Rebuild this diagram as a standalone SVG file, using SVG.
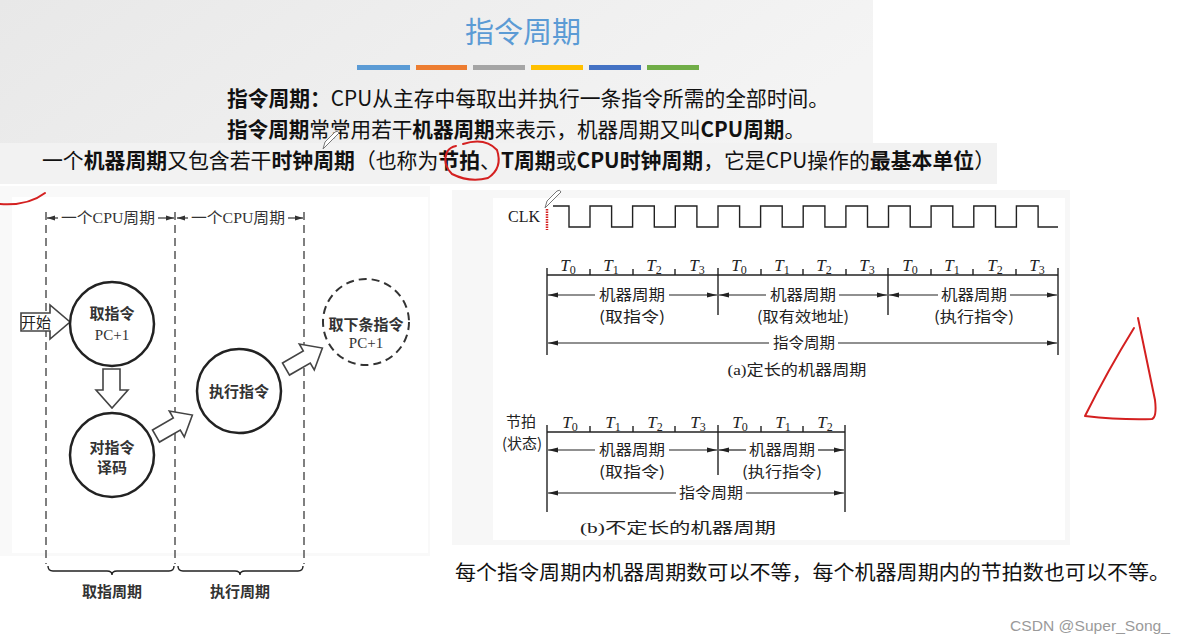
<svg xmlns="http://www.w3.org/2000/svg" width="1187" height="643" viewBox="0 0 1187 643">
<defs>
<linearGradient id="hg" x1="0" y1="0" x2="1" y2="0.3">
<stop offset="0" stop-color="#e8e8e8"/>
<stop offset="1" stop-color="#f4f4f4"/>
</linearGradient>
<marker id="ah" viewBox="0 0 10 6" refX="10" refY="3" markerWidth="10" markerHeight="6" markerUnits="userSpaceOnUse" orient="auto">
<path d="M0,0.6 L10,3 L0,5.4 z" fill="#222"/>
</marker>
<marker id="ahs" viewBox="0 0 8 6" refX="8" refY="3" markerWidth="8" markerHeight="6" markerUnits="userSpaceOnUse" orient="auto">
<path d="M0,0.5 L8,3 L0,5.5 z" fill="#333"/>
</marker>
</defs>
<style>
.hd{font-family:"Noto Sans CJK SC","Noto Sans",sans-serif;font-size:21px;fill:#111}
.b{font-weight:bold}
.dl{stroke:#555;stroke-width:1.5;stroke-dasharray:8 5;fill:none}
.cir{fill:#fff;stroke:#222;stroke-width:2.5}
.blk{fill:#fff;stroke:#444;stroke-width:1.6;stroke-linejoin:miter}
.ct{font-family:"Noto Sans CJK SC",sans-serif;font-size:15px;font-weight:bold;fill:#333;text-anchor:middle}
.pc{font-family:"Liberation Serif","Noto Sans CJK SC",serif;font-size:15px;fill:#333;text-anchor:middle}
.dim{font-family:"Liberation Serif","Noto Sans CJK SC",serif;font-size:15px;fill:#333;text-anchor:middle}
.ln{stroke:#222;stroke-width:1.4;fill:none}
.ar{stroke:#222;stroke-width:1.2;fill:none;marker-end:url(#ah)}
.ars{stroke:#333;stroke-width:1.2;fill:none;marker-end:url(#ahs)}
.rt{font-family:"Noto Sans CJK SC",sans-serif;font-size:15px;fill:#222;text-anchor:middle}
.tl{font-family:"Liberation Serif",serif;font-size:17px;fill:#222;text-anchor:middle}
.cap{font-family:"Liberation Serif","Noto Sans CJK SC",serif;font-size:15px;fill:#222;text-anchor:middle}
.red{stroke:#d42020;stroke-width:2;fill:none;stroke-linecap:round;stroke-linejoin:round}
</style>
<rect width="1187" height="643" fill="#fff"/>
<!-- header -->
<g id="header">
<rect x="0" y="0" width="873" height="184" fill="url(#hg)"/>
<rect x="0" y="143" width="997" height="41" fill="#f2f2f2"/>
<text x="523" y="43" text-anchor="middle" font-family="Noto Sans CJK SC,sans-serif" font-size="29" fill="#5b9bd5">指令周期</text>
<rect x="357" y="65" width="53" height="5" fill="#5b9bd5"/>
<rect x="416" y="65" width="51" height="5" fill="#ed7d31"/>
<rect x="473" y="65" width="52" height="5" fill="#a5a5a5"/>
<rect x="531" y="65" width="52" height="5" fill="#ffc000"/>
<rect x="589" y="65" width="52" height="5" fill="#4472c4"/>
<rect x="647" y="65" width="52" height="5" fill="#70ad47"/>
<text class="hd" x="227" y="106" textLength="602" lengthAdjust="spacingAndGlyphs"><tspan class="b">指令周期：</tspan>CPU从主存中每取出并执行一条指令所需的全部时间。</text>
<text class="hd" x="227" y="137" textLength="578" lengthAdjust="spacingAndGlyphs"><tspan class="b">指令周期</tspan>常常用若干<tspan class="b">机器周期</tspan>来表示，机器周期又叫<tspan class="b">CPU周期</tspan>。</text>
<text class="hd" x="42" y="168" textLength="953" lengthAdjust="spacingAndGlyphs">一个<tspan class="b">机器周期</tspan>又包含若干<tspan class="b">时钟周期</tspan>（也称为<tspan class="b">节拍</tspan>、<tspan class="b">T周期</tspan>或<tspan class="b">CPU时钟周期</tspan>，它是CPU操作的<tspan class="b">最基本单位</tspan>）</text>
</g>
<!-- panels -->
<rect x="0" y="186" width="430" height="370" fill="#f9f9f9"/>
<rect x="12" y="197" width="416" height="356" fill="#fff"/>
<rect x="452" y="190" width="618" height="355" fill="#f7f7f7"/>
<rect x="493" y="198" width="572" height="342" fill="#fff"/>
<!-- left diagram guides -->
<g id="left-guides">
<line class="dl" x1="46" y1="212" x2="46" y2="564"/>
<line class="dl" x1="175" y1="212" x2="175" y2="564"/>
<line class="dl" x1="304" y1="212" x2="304" y2="564"/>
<line class="ars" x1="58" y1="218" x2="47" y2="218"/>
<line class="ars" x1="158" y1="218" x2="174" y2="218"/>
<line class="ars" x1="188" y1="218" x2="177" y2="218"/>
<line class="ars" x1="288" y1="218" x2="303" y2="218"/>
<text class="dim" x="108" y="223" textLength="94" lengthAdjust="spacingAndGlyphs">一个CPU周期</text>
<text class="dim" x="238" y="223" textLength="94" lengthAdjust="spacingAndGlyphs">一个CPU周期</text>
<path class="ln" d="M48,566 Q48,571 53,571 H107 Q112,571 112,575 Q112,571 117,571 H169 Q174,571 174,566"/>
<path class="ln" d="M178,566 Q178,571 183,571 H235 Q240,571 240,575 Q240,571 245,571 H298 Q303,571 303,566"/>
<text class="ct" x="112" y="597" font-size="16">取指周期</text>
<text class="ct" x="240" y="597" font-size="16">执行周期</text>
</g>
<!-- nodes -->
<g id="node-start">
<polygon class="blk" points="21,313 50,313 50,305 70,322 50,339 50,331 21,331"/>
<text x="36" y="328" text-anchor="middle" font-family="Noto Sans CJK SC,sans-serif" font-size="15" fill="#222">开始</text>
</g>
<g id="node-fetch">
<circle class="cir" cx="112" cy="324" r="42"/>
<text class="ct" x="112" y="319">取指令</text>
<text class="pc" x="112" y="340">PC+1</text>
</g>
<g id="node-decode">
<circle class="cir" cx="112" cy="455" r="42"/>
<text class="ct" x="112" y="453">对指令</text>
<text class="ct" x="112" y="473">译码</text>
</g>
<g id="node-exec">
<circle class="cir" cx="239" cy="391" r="42"/>
<text class="ct" x="239" y="397">执行指令</text>
</g>
<g id="node-next">
<circle cx="366" cy="322" r="43" fill="#fff" stroke="#333" stroke-width="2" stroke-dasharray="8 5"/>
<text class="ct" x="366" y="330">取下条指令</text>
<text class="pc" x="366" y="348">PC+1</text>
</g>
<g id="connectors">
<polygon class="blk" points="103,369 120,369 120,390 128,390 112,408 96,390 103,390"/>
<polygon class="blk" transform="translate(156,436) rotate(-30)" points="0,-7 24,-7 24,-15 42,0 24,15 24,7 0,7"/>
<polygon class="blk" transform="translate(286,369) rotate(-30)" points="0,-7 24,-7 24,-15 42,0 24,15 24,7 0,7"/>
</g>
<!-- right diagram (a) -->
<g id="timing-a">
<text x="508" y="222" font-family="Liberation Serif,serif" font-size="16" fill="#222">CLK</text>
<path fill="none" stroke="#222" stroke-width="1.4" d="M553,206 H569 V227 H590 V206 H611.6 V227 H632.6 V206 H654.3 V227 H675.3 V206 H696.9 V227 H718 V206 H739.6 V227 H760.6 V206 H782.2 V227 H803.2 V206 H824.9 V227 H845.9 V206 H867.5 V227 H888.5 V206 H910.2 V227 H931.1 V206 H952.8 V227 H973.8 V206 H995.5 V227 H1016.4 V206 H1038.1 V227 H1058"/>
<line class="ln" x1="547" y1="275" x2="1058" y2="275"/>
<line class="ln" x1="547" y1="268" x2="547" y2="355"/>
<line class="ln" x1="1058" y1="268" x2="1058" y2="355"/>
<line class="ln" x1="718" y1="268" x2="718" y2="315"/>
<line class="ln" x1="888" y1="268" x2="888" y2="315"/>
<path class="ln" stroke-width="1.2" d="M590,269V275M633,269V275M675,269V275M761,269V275M803,269V275M846,269V275M931,269V275M973,269V275M1016,269V275"/>
<g class="tl">
<text x="568" y="271"><tspan font-style="italic">T</tspan><tspan font-size="12" dy="3">0</tspan></text>
<text x="611" y="271"><tspan font-style="italic">T</tspan><tspan font-size="12" dy="3">1</tspan></text>
<text x="654" y="271"><tspan font-style="italic">T</tspan><tspan font-size="12" dy="3">2</tspan></text>
<text x="697" y="271"><tspan font-style="italic">T</tspan><tspan font-size="12" dy="3">3</tspan></text>
<text x="739" y="271"><tspan font-style="italic">T</tspan><tspan font-size="12" dy="3">0</tspan></text>
<text x="782" y="271"><tspan font-style="italic">T</tspan><tspan font-size="12" dy="3">1</tspan></text>
<text x="824" y="271"><tspan font-style="italic">T</tspan><tspan font-size="12" dy="3">2</tspan></text>
<text x="867" y="271"><tspan font-style="italic">T</tspan><tspan font-size="12" dy="3">3</tspan></text>
<text x="910" y="271"><tspan font-style="italic">T</tspan><tspan font-size="12" dy="3">0</tspan></text>
<text x="952" y="271"><tspan font-style="italic">T</tspan><tspan font-size="12" dy="3">1</tspan></text>
<text x="995" y="271"><tspan font-style="italic">T</tspan><tspan font-size="12" dy="3">2</tspan></text>
<text x="1037" y="271"><tspan font-style="italic">T</tspan><tspan font-size="12" dy="3">3</tspan></text>
</g>
<line class="ar" x1="595" y1="295" x2="548" y2="295"/>
<line class="ar" x1="669" y1="295" x2="717" y2="295"/>
<line class="ar" x1="766" y1="295" x2="719" y2="295"/>
<line class="ar" x1="839" y1="295" x2="887" y2="295"/>
<line class="ar" x1="938" y1="295" x2="889" y2="295"/>
<line class="ar" x1="1010" y1="295" x2="1057" y2="295"/>
<text class="rt" x="632" y="300" textLength="66" lengthAdjust="spacingAndGlyphs">机器周期</text>
<text class="rt" x="803" y="300" textLength="66" lengthAdjust="spacingAndGlyphs">机器周期</text>
<text class="rt" x="974" y="300" textLength="66" lengthAdjust="spacingAndGlyphs">机器周期</text>
<text class="rt" x="632" y="322" textLength="66" lengthAdjust="spacingAndGlyphs">(取指令)</text>
<text class="rt" x="803" y="322" textLength="92" lengthAdjust="spacingAndGlyphs">(取有效地址)</text>
<text class="rt" x="974" y="322" textLength="80" lengthAdjust="spacingAndGlyphs">(执行指令)</text>
<line class="ar" x1="769" y1="343" x2="548" y2="343"/>
<line class="ar" x1="838" y1="343" x2="1057" y2="343"/>
<text class="rt" x="804" y="348" textLength="62" lengthAdjust="spacingAndGlyphs">指令周期</text>
<text class="cap" x="797" y="375" textLength="139" lengthAdjust="spacingAndGlyphs">(a)定长的机器周期</text>
</g>
<!-- right diagram (b) -->
<g id="timing-b">
<text class="rt" x="521" y="427" font-size="16">节拍</text>
<text class="rt" x="522" y="449" font-size="16">(状态)</text>
<line class="ln" x1="547" y1="432" x2="845" y2="432"/>
<line class="ln" x1="547" y1="425" x2="547" y2="512"/>
<line class="ln" x1="845" y1="425" x2="845" y2="512"/>
<line class="ln" x1="718" y1="425" x2="718" y2="475"/>
<path class="ln" stroke-width="1.2" d="M590,426V432M633,426V432M675,426V432M761,426V432M803,426V432"/>
<g class="tl">
<text x="570" y="428"><tspan font-style="italic">T</tspan><tspan font-size="12" dy="3">0</tspan></text>
<text x="613" y="428"><tspan font-style="italic">T</tspan><tspan font-size="12" dy="3">1</tspan></text>
<text x="655" y="428"><tspan font-style="italic">T</tspan><tspan font-size="12" dy="3">2</tspan></text>
<text x="698" y="428"><tspan font-style="italic">T</tspan><tspan font-size="12" dy="3">3</tspan></text>
<text x="740" y="428"><tspan font-style="italic">T</tspan><tspan font-size="12" dy="3">0</tspan></text>
<text x="783" y="428"><tspan font-style="italic">T</tspan><tspan font-size="12" dy="3">1</tspan></text>
<text x="825" y="428"><tspan font-style="italic">T</tspan><tspan font-size="12" dy="3">2</tspan></text>
</g>
<line class="ar" x1="595" y1="450" x2="548" y2="450"/>
<line class="ar" x1="669" y1="450" x2="717" y2="450"/>
<line class="ar" x1="746" y1="450" x2="719" y2="450"/>
<line class="ar" x1="818" y1="450" x2="844" y2="450"/>
<text class="rt" x="632" y="455" textLength="66" lengthAdjust="spacingAndGlyphs">机器周期</text>
<text class="rt" x="782" y="455" textLength="66" lengthAdjust="spacingAndGlyphs">机器周期</text>
<text class="rt" x="632" y="477" textLength="66" lengthAdjust="spacingAndGlyphs">(取指令)</text>
<text class="rt" x="782" y="477" textLength="80" lengthAdjust="spacingAndGlyphs">(执行指令)</text>
<line class="ar" x1="676" y1="493" x2="548" y2="493"/>
<line class="ar" x1="746" y1="493" x2="844" y2="493"/>
<text class="rt" x="711" y="498" textLength="64" lengthAdjust="spacingAndGlyphs">指令周期</text>
<text class="cap" x="678" y="533" textLength="196" lengthAdjust="spacingAndGlyphs">(b)不定长的机器周期</text>
</g>
<!-- bottom text -->
<text x="455" y="580" font-family="Noto Sans CJK SC,sans-serif" font-size="20" fill="#111" textLength="715" lengthAdjust="spacingAndGlyphs">每个指令周期内机器周期数可以不等，每个机器周期内的节拍数也可以不等。</text>
<text x="1010" y="631" font-family="Liberation Sans,sans-serif" font-size="15" fill="#9a9a9a" textLength="160" lengthAdjust="spacingAndGlyphs">CSDN @Super_Song_</text>
<!-- annotations -->
<g id="annotations">
<path class="red" d="M463,144 Q485,137 497,150 Q503,168 488,178 Q470,183 452,174 Q442,164 447,152 Q450,147 456,146"/>
<path class="red" d="M0,204 Q28,206 45,193"/>
<path class="red" d="M1134,328 Q1108,370 1085,416 Q1120,420 1152,419 Q1157,417 1155,400 L1138,318"/>
<line x1="547" y1="209" x2="547" y2="230" stroke="#d42020" stroke-width="2.5" stroke-dasharray="1.5 1"/>
<path d="M323,149 L325,142 L335,132 Q338,130 339,133 L329,143 Z" fill="#fff" stroke="#777" stroke-width="1"/>
<path d="M545,208 L547,201 L557,191 Q560,189 561,192 L551,202 Z" fill="#fff" stroke="#777" stroke-width="1"/>
</g>
</svg>
